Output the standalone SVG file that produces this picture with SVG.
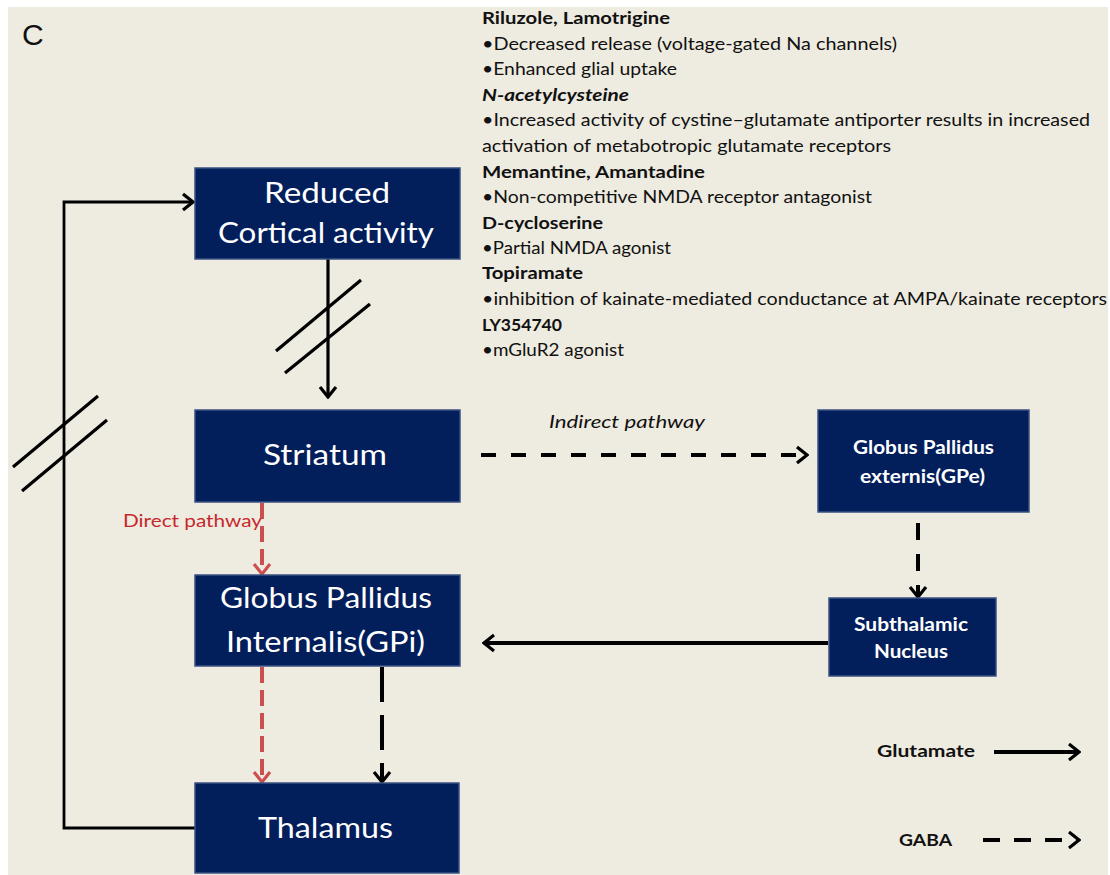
<svg xmlns="http://www.w3.org/2000/svg" width="1110" height="875" viewBox="0 0 1110 875">
<style>
.box{fill:#021e5b;stroke:#3b5283;stroke-width:1.5}
.bt{font-family:Lato,"Liberation Sans",sans-serif;fill:#ffffff;text-anchor:middle}
.big{font-size:28px}
.small{font-size:19px;font-weight:bold}
.rt{font-family:Lato,"Liberation Sans",sans-serif;font-size:17px;fill:#111}
.b{font-weight:bold}
.c{fill:none;stroke:#000}
.red{fill:none;stroke:#cc4f4f}
</style>
<defs>
<marker id="ak" viewBox="0 0 14 20" refX="12" refY="10" markerWidth="14" markerHeight="20" markerUnits="userSpaceOnUse" orient="auto"><path d="M2,2 L12,10 L2,18" fill="none" stroke="#000" stroke-width="3.2"/></marker>
<marker id="ar" viewBox="0 0 14 20" refX="12" refY="10" markerWidth="14" markerHeight="20" markerUnits="userSpaceOnUse" orient="auto"><path d="M2,2 L12,10 L2,18" fill="none" stroke="#cc4f4f" stroke-width="3.2"/></marker>
</defs>
<rect x="0" y="0" width="1110" height="875" fill="#ffffff"/>
<rect x="8" y="7" width="1100" height="868" fill="#eeebe0"/>
<text x="22" y="45" font-family="Liberation Sans,Arial,sans-serif" font-size="30" fill="#111">C</text>

<g id="connectors">
<path class="c" d="M195,828 H64 V202 H193" stroke-width="2.8" marker-end="url(#ak)"/>
<line class="c" x1="13" y1="467" x2="98" y2="396" stroke-width="3.2"/>
<line class="c" x1="22" y1="491" x2="107" y2="420" stroke-width="3.2"/>
<path class="c" d="M328,259 V397" stroke-width="3.2" marker-end="url(#ak)"/>
<line class="c" x1="276" y1="351" x2="361" y2="280" stroke-width="3.2"/>
<line class="c" x1="285" y1="373" x2="370" y2="304" stroke-width="3.2"/>
<path class="c" d="M481,455 H807" stroke-width="4" stroke-dasharray="15 15" marker-end="url(#ak)"/>
<path class="c" d="M918,523 V597" stroke-width="4" stroke-dasharray="17 14" marker-end="url(#ak)"/>
<path class="c" d="M828,643 H484" stroke-width="4" marker-end="url(#ak)"/>
<path class="red" d="M262,503 V574" stroke-width="4" stroke-dasharray="16 7" marker-end="url(#ar)"/>
<path class="red" d="M262,667 V782" stroke-width="4" stroke-dasharray="16 7" marker-end="url(#ar)"/>
<path class="c" d="M382,667 V782" stroke-width="4" stroke-dasharray="35 13" marker-end="url(#ak)"/>
<path class="c" d="M994,752 H1079" stroke-width="4" marker-end="url(#ak)"/>
<path class="c" d="M983,840 H1079" stroke-width="4" stroke-dasharray="17 14" marker-end="url(#ak)"/>
</g>

<g id="cortex">
<rect class="box" x="195" y="168" width="265" height="91"/>
<text class="bt big" x="327" y="203" textLength="126" lengthAdjust="spacingAndGlyphs">Reduced</text>
<text class="bt big" x="326" y="243" textLength="216" lengthAdjust="spacingAndGlyphs">Cortical activity</text>
</g>
<g id="striatum">
<rect class="box" x="195" y="410" width="265" height="92"/>
<text class="bt big" x="325" y="465" textLength="124" lengthAdjust="spacingAndGlyphs">Striatum</text>
</g>
<g id="gpi">
<rect class="box" x="195" y="575" width="265" height="91"/>
<text class="bt big" x="326" y="608" textLength="212" lengthAdjust="spacingAndGlyphs">Globus Pallidus</text>
<text class="bt big" x="325.5" y="652" textLength="199" lengthAdjust="spacingAndGlyphs">Internalis(GPi)</text>
</g>
<g id="thalamus">
<rect class="box" x="195" y="783" width="264" height="90"/>
<text class="bt big" x="325.5" y="838" textLength="135" lengthAdjust="spacingAndGlyphs">Thalamus</text>
</g>
<g id="gpe">
<rect class="box" x="818" y="410" width="211" height="102"/>
<text class="bt small" x="923.5" y="454" textLength="141" lengthAdjust="spacingAndGlyphs">Globus Pallidus</text>
<text class="bt small" x="922.5" y="483" textLength="125" lengthAdjust="spacingAndGlyphs">externis(GPe)</text>
</g>
<g id="stn">
<rect class="box" x="829" y="598" width="167" height="78"/>
<text class="bt small" x="911" y="631" textLength="114" lengthAdjust="spacingAndGlyphs">Subthalamic</text>
<text class="bt small" x="911" y="658" textLength="74" lengthAdjust="spacingAndGlyphs">Nucleus</text>
</g>

<g id="labels">
<text x="123" y="527" font-family="Lato,'Liberation Sans',sans-serif" font-size="18" fill="#c8282b" textLength="139" lengthAdjust="spacingAndGlyphs">Direct pathway</text>
<text x="549" y="428" font-family="Lato,'Liberation Sans',sans-serif" font-size="18" font-style="italic" fill="#111" textLength="156" lengthAdjust="spacingAndGlyphs">Indirect pathway</text>
<text x="877" y="757" font-family="Lato,'Liberation Sans',sans-serif" font-size="17" font-weight="bold" fill="#111" textLength="98" lengthAdjust="spacingAndGlyphs">Glutamate</text>
<text x="899" y="846" font-family="Lato,'Liberation Sans',sans-serif" font-size="17" font-weight="bold" fill="#111" textLength="53" lengthAdjust="spacingAndGlyphs">GABA</text>
</g>

<g id="drug-list">
<text class="rt b" x="482" y="24" textLength="188" lengthAdjust="spacingAndGlyphs">Riluzole, Lamotrigine</text>
<text class="rt" x="482" y="50" textLength="415" lengthAdjust="spacingAndGlyphs">•Decreased release (voltage-gated Na channels)</text>
<text class="rt" x="482" y="75" textLength="195" lengthAdjust="spacingAndGlyphs">•Enhanced glial uptake</text>
<text class="rt b" x="482" y="101" font-style="italic" textLength="147" lengthAdjust="spacingAndGlyphs">N-acetylcysteine</text>
<text class="rt" x="482" y="126" textLength="608" lengthAdjust="spacingAndGlyphs">•Increased activity of cystine–glutamate antiporter results in increased</text>
<text class="rt" x="482" y="152" textLength="409" lengthAdjust="spacingAndGlyphs">activation of metabotropic glutamate receptors</text>
<text class="rt b" x="482" y="178" textLength="223" lengthAdjust="spacingAndGlyphs">Memantine, Amantadine</text>
<text class="rt" x="482" y="203" textLength="390" lengthAdjust="spacingAndGlyphs">•Non-competitive NMDA receptor antagonist</text>
<text class="rt b" x="482" y="229" textLength="121" lengthAdjust="spacingAndGlyphs">D-cycloserine</text>
<text class="rt" x="482" y="254" textLength="189" lengthAdjust="spacingAndGlyphs">•Partial NMDA agonist</text>
<text class="rt b" x="482" y="279" textLength="101" lengthAdjust="spacingAndGlyphs">Topiramate</text>
<text class="rt" x="482" y="305" textLength="625" lengthAdjust="spacingAndGlyphs">•inhibition of kainate-mediated conductance at AMPA/kainate receptors</text>
<text class="rt b" x="482" y="331" textLength="80" lengthAdjust="spacingAndGlyphs">LY354740</text>
<text class="rt" x="482" y="356" textLength="142" lengthAdjust="spacingAndGlyphs">•mGluR2 agonist</text>
</g>
</svg>
